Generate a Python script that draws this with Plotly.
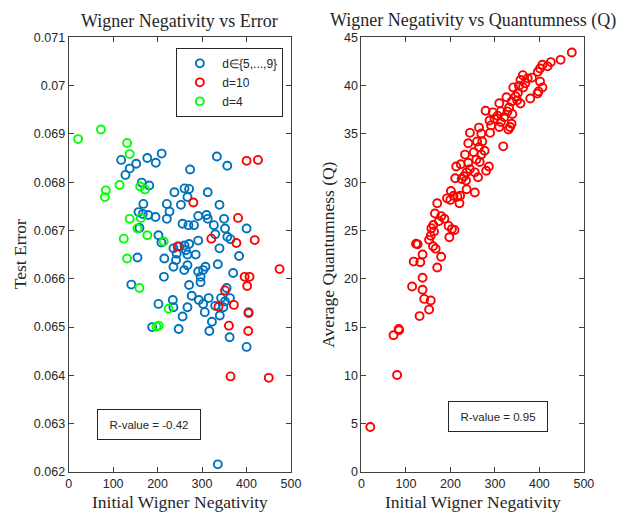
import plotly.graph_objects as go

# ---- Left panel: initial Wigner negativity vs test error, grouped by d ----
blue_x = [118.2, 127.8, 137.3, 152, 176.9, 196, 209.2, 273.1, 333.3, 356.8,
          164.5, 181.3, 237.9, 260.6, 270.9, 267.2, 312.8, 168.1, 220.9, 252.6,
          339.2, 226.9, 157.1, 166.7, 179.1, 195.3, 220.9, 291.4, 309.9, 312.8,
          349.5, 256.2, 269.4, 281.9, 326.6, 351.7, 400.2, 159.3, 202, 329.7,
          356.8, 364.1, 208.6, 235.7, 248.9, 260.6, 270.9, 291.4, 242.9, 263.6,
          267.2, 285.7, 339.2, 383.3, 154.9, 215.2, 241.6, 235.7, 267.2, 335.5,
          259.9, 302.5, 307.7, 291.4, 370, 214.3, 296.7, 296.7, 141, 270.9,
          355.3, 276.8, 292.9, 314.9, 342.9, 362.8, 351.7, 302.5, 329.7, 234.2,
          235.7, 202, 267.2, 348, 306.2, 404.6, 339.9, 256.2, 322.2, 187.9,
          247.4, 316.5, 362, 400.2, 335.5]
blue_y = [0.06846, 0.06815, 0.06828, 0.06838, 0.0685, 0.0684, 0.06859, 0.06826, 0.06853, 0.06834,
          0.06799, 0.06793, 0.06779, 0.06787, 0.06786, 0.06769, 0.06779, 0.06755, 0.06755, 0.06753,
          0.06753, 0.06739, 0.06738, 0.06734, 0.06732, 0.06728, 0.06724, 0.0673, 0.06732, 0.06724,
          0.06724, 0.06714, 0.06711, 0.06711, 0.06711, 0.06704, 0.06704, 0.06705, 0.0669, 0.06692,
          0.06687, 0.06682, 0.06675, 0.06663, 0.06667, 0.06669, 0.06672, 0.06679, 0.06652, 0.06659,
          0.0665, 0.0665, 0.06663, 0.06647, 0.06644, 0.06642, 0.06639, 0.06625, 0.06628, 0.0663,
          0.06618, 0.06618, 0.06625, 0.06615, 0.06612, 0.06604, 0.06604, 0.06593, 0.06588, 0.06587,
          0.06581, 0.06565, 0.06556, 0.0656, 0.0656, 0.0656, 0.06553, 0.06548, 0.06544, 0.06556,
          0.06541, 0.06548, 0.06541, 0.06541, 0.06531, 0.06531, 0.06524, 0.06522, 0.06511, 0.065,
          0.06496, 0.06492, 0.06479, 0.06459, 0.06216]

red_x = [400.2, 425.8, 280.4, 381, 320.9, 377.3, 418.5, 245.2, 474.3, 395.8,
         406.8, 401.5, 351.7, 337, 371.6, 404.6, 360.5, 403.8, 364.1, 450]
red_y = [0.06844, 0.06846, 0.06758, 0.06726, 0.06683, 0.06674, 0.0668, 0.06667, 0.0662, 0.06604,
         0.06604, 0.06585, 0.06576, 0.06542, 0.06546, 0.06529, 0.06503, 0.06492, 0.06398, 0.06395]

green_x = [21.3, 72.7, 131.5, 137.3, 83.7, 81.5, 114.5, 160.8, 171.8, 137.3,
           162.3, 154.9, 176.9, 124, 213.6, 131.5, 159.3, 224.7, 197.6, 202.6]
green_y = [0.06889, 0.06909, 0.06881, 0.06858, 0.06783, 0.06769, 0.06794, 0.06791, 0.06785, 0.06724,
           0.06726, 0.06704, 0.0669, 0.06683, 0.06677, 0.06642, 0.06581, 0.06538, 0.06501, 0.06503]

# ---- Right panel: initial Wigner negativity vs average quantumness ----
q_x = [472.9, 447.8, 425.8, 418.5, 406.8, 401.5, 396.5, 383.3, 373.8, 362.8,
       357.5, 368.5, 354, 363.4, 341.4, 401.5, 406.8, 398, 395.8, 379.5,
       351.7, 357.5, 346.4, 337.6, 350.2, 326, 309.9, 331.9, 279.1, 295.2,
       313.4, 328.2, 339.2, 306.2, 320.9, 298.9, 287.9, 313.4, 337.6, 334.1,
       330.4, 291.4, 309.9, 264.3, 243.8, 269.4, 289.2, 240.1, 259.9, 271.6,
       264.3, 318.7, 232.8, 252.6, 276.8, 269.4, 258.4, 240.1, 265.8, 213,
       223.2, 286.4, 280.4, 243.8, 236.4, 254.8, 210.8, 230.6, 262.1, 225.3,
       235, 236.4, 254.8, 201.1, 192.3, 199.7, 207, 215.9, 221.8, 220.3,
       170.3, 165.2, 179.1, 186.5, 174, 161.5, 157.1, 163, 196, 203.3,
       209.2, 197.6, 155.7, 152, 122.7, 126.3, 160.8, 166.7, 137.3, 179.1,
       117.4, 132.2, 170.3, 137.3, 113.8, 137.3, 141, 155.7, 152, 130.6,
       83.7, 84.4, 72, 80, 19.8]
q_y = [43.42, 42.65, 42.42, 41.98, 42.15, 41.75, 41.41, 40.81, 40.74, 41.07,
       40.57, 40.24, 39.97, 39.8, 39.8, 40.4, 39.8, 39.39, 39.16, 38.66,
       39.23, 38.13, 38.89, 38.33, 38.46, 38.79, 38.16, 37.72, 37.38, 37.22,
       37.32, 37.32, 37.05, 36.88, 36.72, 36.55, 36.37, 36.21, 36.04, 35.71,
       35.44, 35.87, 35.71, 35.64, 35.1, 35.04, 35.1, 34.03, 34.2, 34.2,
       33.62, 33.7, 32.85, 33.09, 33.25, 32.85, 32.35, 32.01, 32.08, 31.61,
       31.85, 31.61, 31.18, 31.35, 31.01, 31.01, 30.4, 30.61, 30.5, 30.33,
       30.17, 29.27, 28.93, 29.09, 28.32, 28.16, 28.59, 28.49, 28.59, 27.82,
       27.82, 26.75, 26.48, 26.21, 25.97, 25.57, 25.24, 24.9, 25.47, 25.14,
       25.04, 24.3, 24.46, 24.03, 23.63, 23.56, 23.36, 23.12, 22.52, 22.28,
       21.78, 21.71, 21.17, 20.1, 19.2, 18.86, 17.92, 17.75, 16.81, 16.14,
       14.8, 14.67, 14.16, 10.04, 4.66]

x_ticks = [0, 100, 200, 300, 400, 500]
err_ticks = [0.062, 0.063, 0.064, 0.065, 0.066, 0.067, 0.068, 0.069, 0.07, 0.071]
err_labels = ["0.062", "0.063", "0.064", "0.065", "0.066", "0.067", "0.068", "0.069", "0.07", "0.071"]
q_ticks = [0, 5, 10, 15, 20, 25, 30, 35, 40, 45]

r_left = "R-value = -0.42"
r_right = "R-value = 0.95"

BLUE = "#0072BD"
RED = "#FF0000"
GREEN = "#00FF00"
AX = "#404040"
SERIF = "Liberation Serif, DejaVu Serif, serif"
SANS = "Liberation Sans, Arial, sans-serif"

W, H = 634, 518


def ring(x, y, color, name, xa, ya, show):
    return go.Scatter(
        x=x, y=y, mode="markers", name=name, showlegend=show,
        xaxis=xa, yaxis=ya,
        marker=dict(symbol="circle-open", size=8, color=color,
                    line=dict(color=color, width=1.9)),
    )


fig = go.Figure()
fig.add_trace(ring(blue_x, blue_y, BLUE, "d\u2208{5,...,9}", "x", "y", True))
fig.add_trace(ring(red_x, red_y, RED, "d=10", "x", "y", True))
fig.add_trace(ring(green_x, green_y, GREEN, "d=4", "x", "y", True))
fig.add_trace(ring(q_x, q_y, RED, "Q", "x2", "y2", False))

# pixel-based panel placement
Lx0, Lx1 = 67, 294
Rx0, Rx1 = 366, 593
Ytop, Ybot = 31, 478
yd = [1 - Ybot / H, 1 - Ytop / H]

axis_common = dict(
    showline=True, linecolor=AX, linewidth=1, mirror="ticks",
    ticks="inside", ticklen=5, tickwidth=1, tickcolor=AX,
    showgrid=False, zeroline=False,
    tickfont=dict(family=SANS, size=12.5, color="#262626"),
)

fig.update_layout(
    width=W, height=H,
    margin=dict(l=0, r=0, t=0, b=0),
    paper_bgcolor="white", plot_bgcolor="white",
    xaxis=dict(domain=[Lx0 / W, Lx1 / W], range=[0, 500], tickvals=x_ticks,
               anchor="y", **axis_common),
    yaxis=dict(domain=yd, range=[0.062, 0.071], tickvals=err_ticks,
               ticktext=err_labels, anchor="x", **axis_common),
    xaxis2=dict(domain=[Rx0 / W, Rx1 / W], range=[0, 500], tickvals=x_ticks,
                anchor="y2", **axis_common),
    yaxis2=dict(domain=yd, range=[0, 45], tickvals=q_ticks,
                anchor="x2", **axis_common),
    legend=dict(
        x=177 / W, y=1 - 42 / H, xanchor="left", yanchor="top",
        bgcolor="white", bordercolor="#262626", borderwidth=1,
        font=dict(family=SANS, size=12, color="#262626"),
        itemwidth=35, tracegroupgap=0,
    ),
)


def text_at(px, py, s, size=18, angle=0, family=SERIF):
    fig.add_annotation(x=px / W, y=1 - py / H, xref="paper", yref="paper",
                       text=s, showarrow=False, textangle=angle,
                       xanchor="center", yanchor="middle",
                       font=dict(family=family, size=size, color="#262626"))


text_at((Lx0 + Lx1) / 2, 14, "Wigner Negativity vs Error")
text_at((Rx0 + Rx1) / 2, 14, "Wigner Negativity vs Quantumness (Q)")
text_at((Lx0 + Lx1) / 2, 509, "Initial Wigner Negativity", size=17.5)
text_at((Rx0 + Rx1) / 2, 509, "Initial Wigner Negativity", size=17.5)
text_at(17, (Ytop + Ybot) / 2, "Test Error", angle=-90, size=17.5)
text_at(331, (Ytop + Ybot) / 2, "Average Quantumness (Q)", angle=-90, size=17.5)

# correlation boxes
for cx, cy, bw, s in [(148.7, 429, 98, r_left), (505.8, 421, 94, r_right)]:
    fig.add_annotation(x=cx / W, y=1 - cy / H, xref="paper", yref="paper",
                       text=s, showarrow=False, xanchor="center", yanchor="middle",
                       width=bw, height=25, borderpad=2,
                       bordercolor="#262626", borderwidth=1, bgcolor="white",
                       font=dict(family=SANS, size=11.5, color="#262626"))

fig.write_html("out.html")
